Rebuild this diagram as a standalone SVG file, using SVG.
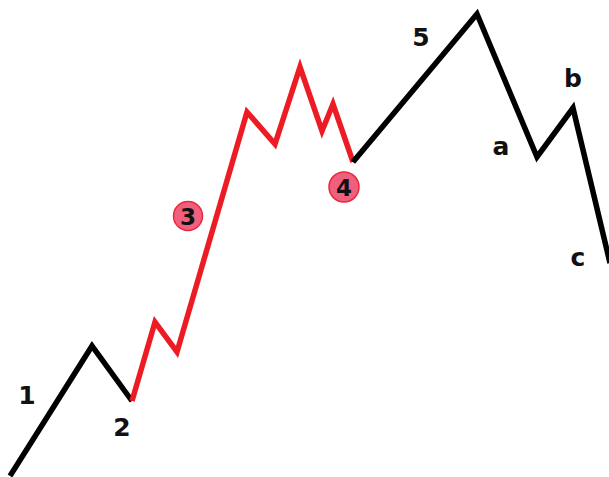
<svg xmlns="http://www.w3.org/2000/svg" width="609" height="477" viewBox="0 0 609 477">
<style>
.w{fill:none;stroke-width:5.5;stroke-linejoin:miter;stroke-linecap:butt}
.k{stroke:#000}
.r{stroke:#ed1c24}
.t{font-family:"DejaVu Sans",sans-serif;font-weight:bold;font-size:25px;fill:#111;text-anchor:middle}
.n{font-size:23px}
.c{fill:#f0607e;stroke:#e8283c;stroke-width:1.5}
</style>
<rect width="609" height="477" fill="#fff"/>
<g id="connectors">
<polyline class="w k" points="10,476 92,346 132,401"/>
<polyline class="w r" points="132,401 155,322 177,352 247,112 275,144 300,67 322,131 333,104 353,162"/>
<polyline class="w k" points="353,162 477,14 537,157 573,108 610,263"/>
</g>
<g id="label1"><text class="t" x="27" y="404">1</text></g>
<g id="label2"><text class="t" x="122" y="436">2</text></g>
<g id="label3"><circle class="c" cx="188" cy="216" r="14.5"/><text class="t n" x="188" y="225">3</text></g>
<g id="label4"><circle class="c" cx="344" cy="187" r="15"/><text class="t n" x="344" y="196">4</text></g>
<g id="label5"><text class="t" x="421" y="46">5</text></g>
<g id="labela"><text class="t" x="501" y="155">a</text></g>
<g id="labelb"><text class="t" x="573" y="87">b</text></g>
<g id="labelc"><text class="t" x="578" y="266">c</text></g>
</svg>
